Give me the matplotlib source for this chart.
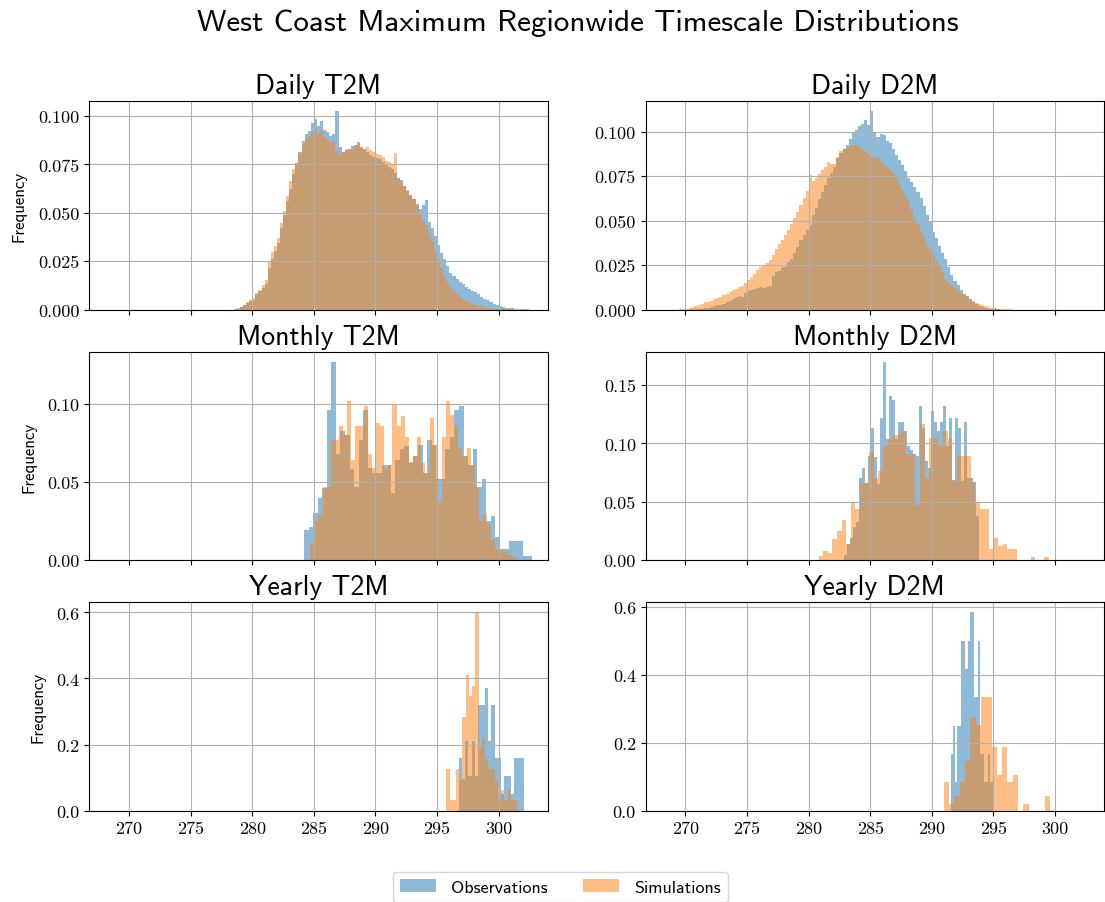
import numpy as np
import matplotlib
matplotlib.use("Agg")
import matplotlib.pyplot as plt
from matplotlib.ticker import MaxNLocator, MultipleLocator

# normalised histogram heights, binned evenly between the given (lo, hi) edges
daily_t2m_obs = [
    0.0002, 0.0005,
    0.0012, 0.0022, 0.0033, 0.0045, 0.0052, 0.0078, 0.0094, 0.0112,
    0.0130, 0.0215, 0.0262, 0.0305, 0.0345, 0.0420, 0.0490, 0.0560,
    0.0625, 0.0700, 0.0755, 0.0815, 0.0870, 0.0905, 0.0925, 0.0965,
    0.0985, 0.0950, 0.0975, 0.0930, 0.0920, 0.0895, 0.0905, 0.1025,
    0.0840, 0.0815, 0.0825, 0.0830, 0.0845, 0.0850, 0.0865, 0.0840,
    0.0830, 0.0815, 0.0800, 0.0790, 0.0785, 0.0780, 0.0765, 0.0750,
    0.0735, 0.0725, 0.0705, 0.0680, 0.0670, 0.0640, 0.0615, 0.0590,
    0.0570, 0.0545, 0.0520, 0.0540, 0.0565, 0.0455, 0.0420, 0.0380,
    0.0335, 0.0290, 0.0260, 0.0225, 0.0190, 0.0175, 0.0160, 0.0145,
    0.0130, 0.0118, 0.0107, 0.0098, 0.0090, 0.0078, 0.0064, 0.0055,
    0.0047, 0.0038, 0.0030, 0.0022, 0.0017, 0.0013, 0.0010, 0.0008,
    0.0006, 0.0004, 0.0003, 0.0002,
    0.0002, 0.0001,
]
daily_t2m_sim = [
    0.0004, 0.0008,
    0.0015, 0.0025, 0.0038, 0.0050, 0.0060, 0.0085, 0.0100, 0.0125,
    0.0155, 0.0245, 0.0295, 0.0330, 0.0370, 0.0450, 0.0510, 0.0585,
    0.0665, 0.0725, 0.0760, 0.0805, 0.0850, 0.0880, 0.0895, 0.0925,
    0.0935, 0.0915, 0.0925, 0.0890, 0.0880, 0.0865, 0.0870, 0.0820,
    0.0800, 0.0815, 0.0830, 0.0825, 0.0830, 0.0850, 0.0855, 0.0835,
    0.0830, 0.0840, 0.0825, 0.0815, 0.0805, 0.0800, 0.0790, 0.0770,
    0.0765, 0.0745, 0.0810, 0.0680, 0.0660, 0.0640, 0.0620, 0.0590,
    0.0570, 0.0535, 0.0500, 0.0460, 0.0435, 0.0390, 0.0350, 0.0305,
    0.0260, 0.0215, 0.0176, 0.0140, 0.0115, 0.0095, 0.0080, 0.0065,
    0.0055, 0.0045, 0.0038, 0.0030, 0.0024, 0.0020, 0.0017, 0.0012,
    0.0009, 0.0007, 0.0005, 0.0004, 0.0003, 0.0002, 0.0002, 0.0001,
    0.0001, 0.0, 0.0, 0.0,
    0.0, 0.0,
]
daily_t2m_obs_range = (278.5, 302.5)
daily_t2m_sim_range = (278.5, 302.5)

daily_d2m_obs = [
    0.0, 0.0,
    0.0, 0.0001, 0.0002, 0.0003, 0.0004, 0.0006, 0.0009, 0.0011,
    0.0013, 0.0018, 0.0023, 0.0028, 0.0030, 0.0040, 0.0050, 0.0060,
    0.0070, 0.0075, 0.0070, 0.0095, 0.0107, 0.0112, 0.0117, 0.0122,
    0.0126, 0.0120, 0.0126, 0.0130, 0.0190, 0.0210, 0.0215, 0.0240,
    0.0240, 0.0265, 0.0286, 0.0320, 0.0350, 0.0390, 0.0420, 0.0445,
    0.0475, 0.0530, 0.0570, 0.0620, 0.0660, 0.0700, 0.0740, 0.0770,
    0.0800, 0.0850, 0.0880, 0.0905, 0.0927, 0.0960, 0.0990, 0.1010,
    0.1030, 0.1045, 0.1067, 0.1040, 0.1115, 0.0990, 0.0970, 0.0985,
    0.0980, 0.0950, 0.0936, 0.0905, 0.0870, 0.0840, 0.0810, 0.0780,
    0.0740, 0.0715, 0.0690, 0.0660, 0.0625, 0.0580, 0.0530, 0.0490,
    0.0437, 0.0400, 0.0360, 0.0320, 0.0286, 0.0240, 0.0192, 0.0160,
    0.0136, 0.0110, 0.0090, 0.0075, 0.0060, 0.0045, 0.0032, 0.0022,
    0.0013, 0.0008, 0.0005, 0.0003, 0.0002, 0.0001, 0.0, 0.0,
    0.0, 0.0,
]
daily_d2m_sim = [
    0.0001, 0.0003,
    0.0005, 0.0008, 0.0012, 0.0018, 0.0026, 0.0030, 0.0040, 0.0045,
    0.0050, 0.0058, 0.0066, 0.0072, 0.0080, 0.0090, 0.0098, 0.0108,
    0.0117, 0.0125, 0.0135, 0.0150, 0.0164, 0.0185, 0.0200, 0.0220,
    0.0240, 0.0250, 0.0260, 0.0280, 0.0305, 0.0340, 0.0370, 0.0390,
    0.0420, 0.0445, 0.0480, 0.0515, 0.0550, 0.0590, 0.0625, 0.0665,
    0.0757, 0.0720, 0.0740, 0.0760, 0.0785, 0.0800, 0.0830, 0.0820,
    0.0820, 0.0860, 0.0890, 0.0900, 0.0910, 0.0920, 0.0927, 0.0925,
    0.0917, 0.0905, 0.0890, 0.0875, 0.0860, 0.0855, 0.0850, 0.0830,
    0.0810, 0.0800, 0.0785, 0.0765, 0.0740, 0.0705, 0.0670, 0.0640,
    0.0610, 0.0560, 0.0510, 0.0475, 0.0437, 0.0400, 0.0360, 0.0330,
    0.0305, 0.0275, 0.0250, 0.0210, 0.0173, 0.0155, 0.0136, 0.0120,
    0.0107, 0.0095, 0.0080, 0.0070, 0.0060, 0.0048, 0.0038, 0.0030,
    0.0023, 0.0019, 0.0015, 0.0011, 0.0008, 0.0006, 0.0004, 0.0003,
    0.0002, 0.0001,
]
daily_d2m_obs_range = (269.5, 296.5)
daily_d2m_sim_range = (269.5, 296.5)

monthly_t2m_obs = [
    0.019, 0.021, 0.030, 0.040, 0.046, 0.096, 0.127, 0.068, 0.083, 0.080,
    0.0585, 0.047, 0.077, 0.096, 0.059, 0.0555, 0.0555, 0.061, 0.061, 0.043,
    0.064, 0.071, 0.073, 0.062, 0.067, 0.074, 0.056, 0.077, 0.074, 0.052,
    0.052, 0.071, 0.079, 0.096, 0.099, 0.067, 0.061, 0.071, 0.047, 0.052,
    0.025, 0.028, 0.015, 0.007, 0.007, 0.012, 0.012, 0.012, 0.0025, 0.0025,
]
monthly_t2m_sim = [
    0.011, 0.025, 0.029, 0.047, 0.047, 0.077, 0.077, 0.086, 0.080, 0.102,
    0.064, 0.086, 0.086, 0.099, 0.068, 0.059, 0.088, 0.086, 0.059, 0.061,
    0.0995, 0.086, 0.092, 0.079, 0.063, 0.067, 0.079, 0.062, 0.056, 0.091,
    0.074, 0.037, 0.079, 0.102, 0.093, 0.086, 0.072, 0.067, 0.072, 0.061,
    0.047, 0.025, 0.029, 0.023, 0.013, 0.007, 0.006, 0.005, 0.003, 0.0017,
]
monthly_t2m_obs_range = (284.2, 302.7)
monthly_t2m_sim_range = (284.7, 301.4)

monthly_d2m_obs = [
    0.0046, 0.0137, 0.019, 0.0285, 0.033, 0.070, 0.079, 0.066, 0.089, 0.113,
    0.0887, 0.065, 0.122, 0.170, 0.1035, 0.141, 0.137, 0.1035, 0.118, 0.118,
    0.111, 0.098, 0.094, 0.091, 0.089, 0.132, 0.113, 0.085, 0.079, 0.128,
    0.118, 0.111, 0.118, 0.132, 0.098, 0.122, 0.069, 0.122, 0.1135, 0.068,
    0.118, 0.070, 0.0707, 0.067, 0.038,
]
monthly_d2m_sim = [
    0.0037, 0.008, 0.006, 0.018, 0.025, 0.034, 0.014, 0.049, 0.044, 0.066,
    0.066, 0.093, 0.0707, 0.076, 0.098, 0.1035, 0.107, 0.107, 0.111, 0.091,
    0.091, 0.047, 0.117, 0.0707, 0.105, 0.105, 0.098, 0.111, 0.104, 0.068,
    0.089, 0.089, 0.089, 0.067, 0.050, 0.044, 0.044, 0.0094, 0.019, 0.012,
    0.0137, 0.0094, 0.0094, 0.0, 0.0, 0.0, 0.0025, 0.0, 0.0, 0.0025,
]
monthly_d2m_obs_range = (282.865, 293.8)
monthly_d2m_sim_range = (280.8, 299.5)

yearly_t2m_obs = [
    0.158, 0.095, 0.21, 0.105, 0.21, 0.105, 0.32, 0.32, 0.37, 0.21,
    0.32, 0.158, 0.158, 0.052, 0.105, 0.105, 0.052, 0.158, 0.158, 0.158,
]
yearly_t2m_sim = [
    0.126, 0.032, 0.032, 0.126, 0.094, 0.284, 0.41, 0.347, 0.376, 0.6,
    0.188, 0.22, 0.157, 0.126, 0.126, 0.094, 0.032, 0.063, 0.032, 0.063,
    0.032, 0.032,
]
yearly_t2m_obs_range = (296.75, 302.05)
yearly_t2m_sim_range = (295.75, 301.5)

yearly_d2m_obs = [
    0.167, 0.25, 0.084, 0.25, 0.25, 0.50, 0.50, 0.418, 0.50, 0.585,
    0.585, 0.334, 0.334, 0.50, 0.167, 0.167, 0.084, 0.084, 0.167, 0.084,
]
yearly_d2m_sim = [
    0.084, 0.021, 0.042, 0.084, 0.147, 0.273, 0.252, 0.336, 0.336, 0.189,
    0.105, 0.189, 0.084, 0.105, 0.0, 0.021, 0.0, 0.0, 0.0, 0.042,
]
yearly_d2m_obs_range = (291.54, 294.92)
yearly_d2m_sim_range = (290.97, 299.58)

panels = [
    ("Daily T2M", daily_t2m_obs, daily_t2m_obs_range, daily_t2m_sim, daily_t2m_sim_range),
    ("Daily D2M", daily_d2m_obs, daily_d2m_obs_range, daily_d2m_sim, daily_d2m_sim_range),
    ("Monthly T2M", monthly_t2m_obs, monthly_t2m_obs_range, monthly_t2m_sim, monthly_t2m_sim_range),
    ("Monthly D2M", monthly_d2m_obs, monthly_d2m_obs_range, monthly_d2m_sim, monthly_d2m_sim_range),
    ("Yearly T2M", yearly_t2m_obs, yearly_t2m_obs_range, yearly_t2m_sim, yearly_t2m_sim_range),
    ("Yearly D2M", yearly_d2m_obs, yearly_d2m_obs_range, yearly_d2m_sim, yearly_d2m_sim_range),
]

SANS = "cmss10"
plt.rcParams["font.family"] = "cmr10"
plt.rcParams["axes.unicode_minus"] = False
plt.rcParams["xtick.labelsize"] = 13
plt.rcParams["ytick.labelsize"] = 13


def draw_hist(ax, values, bin_range, color, label):
    edges = np.linspace(bin_range[0], bin_range[1], len(values) + 1)
    centers = (edges[:-1] + edges[1:]) / 2
    ax.hist(centers, bins=edges, weights=values, alpha=0.5, color=color, label=label)


fig, axes = plt.subplots(3, 2, figsize=(11.05, 9.03), dpi=100, sharex=True)
fig.subplots_adjust(left=0.0808, right=0.9991, bottom=0.1011, top=0.8867,
                    wspace=0.214, hspace=0.203)

for ax, (title, obs, obs_range, sim, sim_range) in zip(axes.flat, panels):
    draw_hist(ax, obs, obs_range, "C0", "Observations")
    draw_hist(ax, sim, sim_range, "C1", "Simulations")
    ax.grid(True)
    ax.set_title(title, fontfamily=SANS, fontsize=20)
    ax.yaxis.set_major_locator(MaxNLocator(5, steps=[1, 2, 2.5, 5, 10]))

for ax in axes[:, 0]:
    ax.set_ylabel("Frequency", fontfamily=SANS, fontsize=12, labelpad=8)

axes[0, 0].set_xlim(266.77, 303.97)
axes[0, 0].xaxis.set_major_locator(MultipleLocator(5))

handles, labels = axes[0, 0].get_legend_handles_labels()
fig.legend(handles, labels, loc="upper center", bbox_to_anchor=(0.507, 0.043),
           ncol=2, prop={"family": SANS, "size": 13}, columnspacing=2.0)

fig.suptitle("West Coast Maximum Regionwide Timescale Distributions",
             fontfamily=SANS, fontsize=22.4, x=0.523, y=0.966, va="baseline")

fig.savefig("out.png", dpi=100)
